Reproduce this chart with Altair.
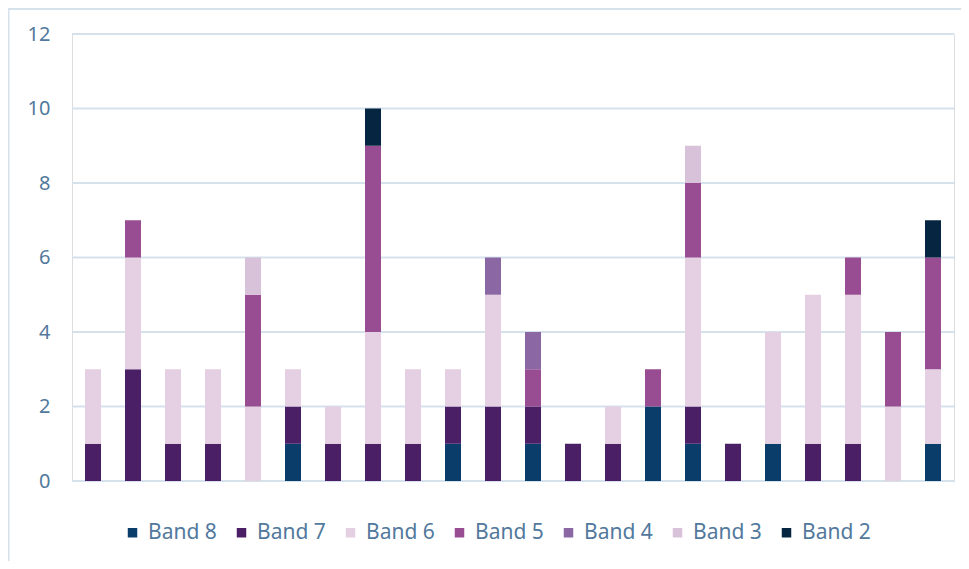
import altair as alt
import pandas as pd

bars = [str(i) for i in range(1, 23)]
bands = ["Band 8", "Band 7", "Band 6", "Band 5", "Band 4", "Band 3", "Band 2"]
colors = ["#0b3d6b", "#4a1f66", "#e5cfe3", "#984c91", "#8b68a4", "#d8c2da", "#062540"]
y_ticks = [0, 2, 4, 6, 8, 10, 12]

band8 = [0, 0, 0, 0, 0, 1, 0, 0, 0, 1, 0, 1, 0, 0, 2, 1, 0, 1, 0, 0, 0, 1]
band7 = [1, 3, 1, 1, 0, 1, 1, 1, 1, 1, 2, 1, 1, 1, 0, 1, 1, 0, 1, 1, 0, 0]
band6 = [2, 3, 2, 2, 2, 1, 1, 3, 2, 1, 3, 0, 0, 1, 0, 4, 0, 3, 4, 4, 2, 2]
band5 = [0, 1, 0, 0, 3, 0, 0, 5, 0, 0, 0, 1, 0, 0, 1, 2, 0, 0, 0, 1, 2, 3]
band4 = [0, 0, 0, 0, 0, 0, 0, 0, 0, 0, 1, 1, 0, 0, 0, 0, 0, 0, 0, 0, 0, 0]
band3 = [0, 0, 0, 0, 1, 0, 0, 0, 0, 0, 0, 0, 0, 0, 0, 1, 0, 0, 0, 0, 0, 0]
band2 = [0, 0, 0, 0, 0, 0, 0, 1, 0, 0, 0, 0, 0, 0, 0, 0, 0, 0, 0, 0, 0, 1]

series = [band8, band7, band6, band5, band4, band3, band2]
rows = []
for k, (name, vals) in enumerate(zip(bands, series)):
    for b, v in zip(bars, vals):
        if v > 0:
            rows.append({"bar": b, "band": name, "order": k, "value": v})
df = pd.DataFrame(rows)
grid_df = pd.DataFrame({"tick": y_ticks})

FONT = "Noto Sans"
TXT = "#52799d"
GRID = "#d5e1eb"

yscale = alt.Scale(domain=[0, 12], nice=False)

grid = alt.Chart(grid_df).mark_rule(color=GRID, strokeWidth=2).encode(
    y=alt.Y("tick:Q", scale=yscale, title=None,
            axis=alt.Axis(values=y_ticks, ticks=False, domain=False, grid=False,
                          labelPadding=22, labelFont=FONT, labelFontSize=20,
                          labelColor=TXT)),
)

bars_chart = alt.Chart(df).mark_bar().encode(
    x=alt.X("bar:N", sort=bars, title=None,
            scale=alt.Scale(domain=bars, paddingInner=0.6, paddingOuter=0.325),
            axis=None),
    y=alt.Y("value:Q", stack="zero", scale=yscale),
    color=alt.Color("band:N", scale=alt.Scale(domain=bands, range=colors), title=None,
                    legend=alt.Legend(orient="none", legendX=50, legendY=488,
                                      direction="horizontal", symbolType="square",
                                      symbolSize=90, symbolStrokeWidth=0,
                                      labelFont=FONT, labelFontSize=21, labelColor=TXT,
                                      labelOffset=5, columnPadding=14)),
    order=alt.Order("order:Q", sort="ascending"),
)

frame_df = pd.DataFrame({"k": [0]})
frame_left = alt.Chart(frame_df).mark_rule(color=GRID, strokeWidth=2).encode(
    x=alt.value(-63.5), y=alt.value(-26), y2=alt.value(527)
)
frame_top = alt.Chart(frame_df).mark_rule(color=GRID, strokeWidth=2).encode(
    x=alt.value(-63.5), x2=alt.value(889), y=alt.value(-25)
)

chart = alt.layer(frame_left, frame_top, grid, bars_chart).properties(
    width=882, height=447,
    autosize=alt.AutoSizeParams(type="none"),
    padding={"left": 64, "top": 26, "right": 7, "bottom": 80},
).configure_view(stroke=None).configure_axis(grid=False).configure(background="white")

chart.save("out.html", embed_options={"renderer": "svg", "actions": False})
